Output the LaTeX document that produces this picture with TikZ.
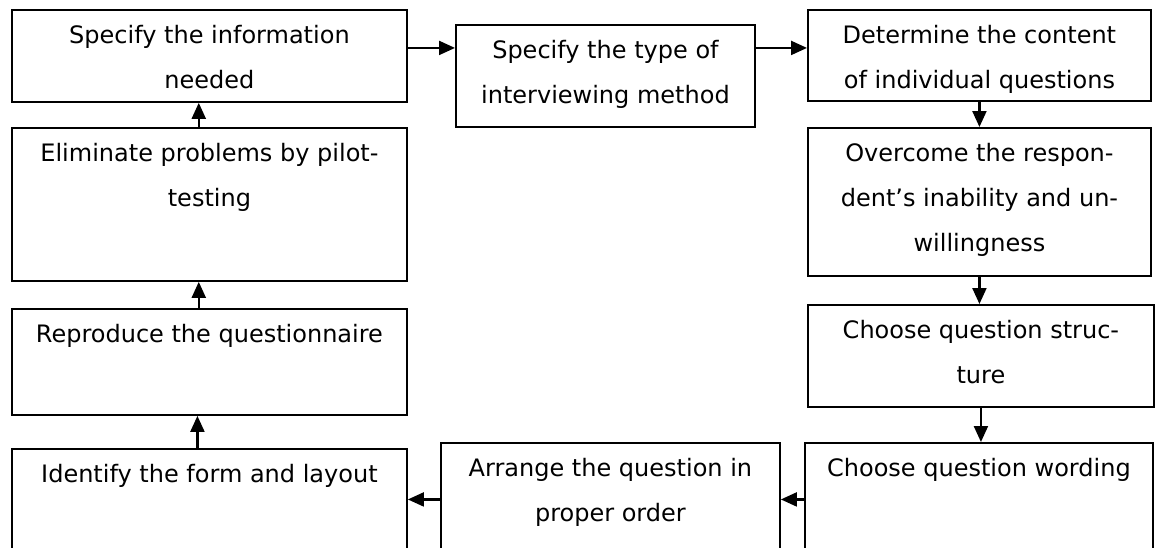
\documentclass[tikz,border=0pt]{standalone}
\usepackage{fontspec}
\setmainfont{DejaVu Sans}
\usetikzlibrary{arrows.meta,calc}

\newcommand{\stagefont}{\fontsize{18pt}{33.75pt}\selectfont}
\newcommand{\stagetext}[3]{\parbox[c][#2][t]{#1}{\centering\rule{0pt}{25pt}#3}}

\tikzset{
  stage/.style={draw, line width=1.4pt, anchor=north west, inner sep=0pt, font=\stagefont},
  flow/.style={-{Triangle[length=12pt,width=10.5pt]}, line width=1.6pt},
}

\begin{document}
\begin{tikzpicture}[x=0.75pt,y=-0.75pt]
  \clip (0,0) rectangle (1155,547);
  \fill[white] (0,0) rectangle (1155,547);
  % top row
  \node[stage] (info) at (11,9) {\stagetext{296.25pt}{69pt}{Specify the information\\needed}};
  \node[stage] (method) at (455,24) {\stagetext{224.25pt}{76.5pt}{Specify the type of\\interviewing method}};
  \node[stage] (content) at (807,9) {\stagetext{257.25pt}{68.25pt}{Determine the content\\of individual questions}};
  % right column
  \node[stage] (overcome) at (807,127) {\stagetext{257.25pt}{111pt}{Overcome the respon-\\dent’s inability and un-\\willingness}};
  \node[stage] (structure) at (807,304) {\stagetext{259.5pt}{76.5pt}{Choose question struc-\\ture}};
  \node[stage] (wording) at (804,442) {\stagetext{261pt}{84.75pt}{Choose question wording}};
  % bottom row
  \node[stage] (arrange) at (440,442) {\stagetext{254.25pt}{84.75pt}{Arrange the question in\\proper order}};
  \node[stage] (layout) at (11,448) {\stagetext{296.25pt}{80.25pt}{Identify the form and layout}};
  % left column
  \node[stage] (reproduce) at (11,308) {\stagetext{296.25pt}{79.5pt}{Reproduce the questionnaire}};
  \node[stage] (pilot) at (11,127) {\stagetext{296.25pt}{114.75pt}{Eliminate problems by pilot-\\testing}};

  \draw[flow] ([yshift=6pt]info.east) -- ([yshift=6pt]info.east -| method.west);
  \draw[flow] ([yshift=21pt]method.east) -- ([yshift=21pt]method.east -| content.west);
  \draw[flow] (content.south) -- (content.south |- overcome.north);
  \draw[flow] (overcome.south) -- (overcome.south |- structure.north);
  \draw[flow] (structure.south) -- (structure.south |- wording.north);
  \draw[flow] (wording.west) -- (wording.west -| arrange.east);
  \draw[flow] (arrange.west) -- (arrange.west -| layout.east);
  \draw[flow] ([xshift=-9pt]layout.north) -- ([xshift=-9pt]layout.north |- reproduce.south);
  \draw[flow] ([xshift=-8pt]reproduce.north) -- ([xshift=-8pt]reproduce.north |- pilot.south);
  \draw[flow] ([xshift=-8pt]pilot.north) -- ([xshift=-8pt]pilot.north |- info.south);
\end{tikzpicture}
\end{document}
